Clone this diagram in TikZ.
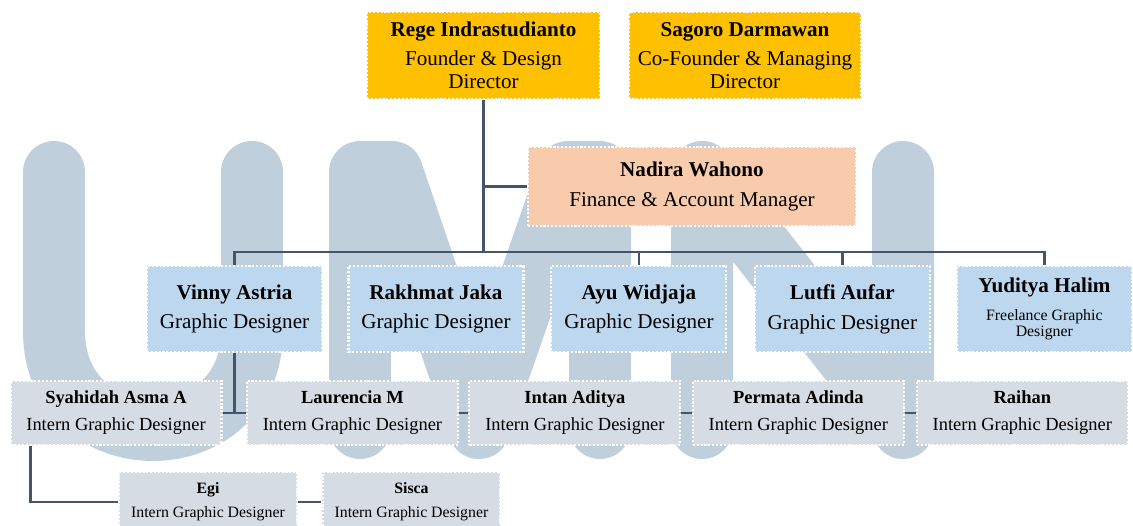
\documentclass[tikz,border=0pt]{standalone}
\usepackage{fontspec}
\setmainfont{Liberation Serif}
\usetikzlibrary{positioning}
\definecolor{gold}{HTML}{FFC000}
\definecolor{peach}{HTML}{F8CBAD}
\definecolor{paleblue}{HTML}{BDD7EE}
\definecolor{palegrey}{HTML}{D6DCE4}
\definecolor{slate}{HTML}{44546A}
\definecolor{umnblue}{RGB}{192,207,220}
\tikzset{
    member/.style={
           rectangle,
           draw=white, densely dotted, line width=1.2pt,
           inner sep=2pt,
           align=center,
           },
    founder/.style={member, fill=gold,
           minimum width=4.66cm, minimum height=1.74cm,
           font=\fontsize{12}{13}\selectfont},
    manager/.style={member, fill=peach,
           minimum width=6.56cm, minimum height=1.58cm,
           font=\fontsize{12}{13}\selectfont},
    designer/.style={member, fill=paleblue,
           minimum width=3.5cm, minimum height=1.72cm,
           font=\fontsize{12}{13}\selectfont},
    intern/.style={member, fill=palegrey,
           minimum width=4.22cm, minimum height=1.28cm,
           font=\fontsize{10.5}{12}\selectfont},
    junior/.style={member, fill=palegrey,
           minimum width=3.56cm, minimum height=1.2cm,
           font=\fontsize{9}{11}\selectfont},
    link/.style={draw=slate, line width=1.6pt},
    letter/.style={draw=umnblue, line width=1.24cm,
           line cap=round, line join=round},
}
\begin{document}
\begin{tikzpicture}[x=0.02cm, y=-0.02cm]

 \useasboundingbox (0,0) rectangle (1133,526);

 % watermark
 \draw[letter] (54,172) -- (54,331)
   .. controls (54,463) and (252,463) .. (252,331) -- (252,172);
 \draw[letter] (360,428) -- (360,172) -- (392,172) -- (479,428)
   -- (568,172) -- (600,172) -- (600,428);
 \draw[letter] (702,428) -- (702,172) -- (903,428) -- (903,172);

 \node[founder] (REGE) at (483.5,55.5)
 {%
  \textbf{Rege Indrastudianto}\\[3.4pt]
  Founder \& Design\\
  Director
 };

 \node[founder] (SAGORO) at (745,55.5)
 {%
  \textbf{Sagoro Darmawan}\\[3.4pt]
  Co-Founder \& Managing\\
  Director
 };

 \node[manager] (NADIRA) at (692,186.5)
 {%
  \textbf{Nadira Wahono}\\[4pt]
  Finance \& Account Manager
 };

 \node[designer] (VINNY) at (234.5,309)
 {%
  \textbf{Vinny Astria}\\[4pt]
  Graphic Designer
 };

 \node[designer,
  node distance=4.03cm,
  right of=VINNY] (RAKHMAT)
 {%
  \textbf{Rakhmat Jaka}\\[4pt]
  Graphic Designer
 };

 \node[designer,
  node distance=4.06cm,
  right of=RAKHMAT] (AYU)
 {%
  \textbf{Ayu Widjaja}\\[4pt]
  Graphic Designer
 };

 \node[designer,
  node distance=4.07cm,
  right of=AYU] (LUTFI)
 {%
  \textbf{Lutfi Aufar}\\[4pt]
  Graphic Designer
 };

 \node[designer,
  node distance=4.04cm,
  right of=LUTFI,
  font=\fontsize{9}{9.5}\selectfont] (YUDITYA)
 {%
  {\fontsize{12}{13}\selectfont\bfseries Yuditya Halim}\\[6.4pt]
  Freelance Graphic\\
  Designer
 };

 \node[intern] (SYAHIDAH) at (116,413)
 {%
  \textbf{Syahidah Asma A}\\[3.3pt]
  Intern Graphic Designer
 };

 \node[intern,
  node distance=4.73cm,
  right of=SYAHIDAH] (LAURENCIA)
 {%
  \textbf{Laurencia M}\\[3.3pt]
  Intern Graphic Designer
 };

 \node[intern,
  node distance=4.45cm,
  right of=LAURENCIA] (INTAN)
 {%
  \textbf{Intan Aditya}\\[3.3pt]
  Intern Graphic Designer
 };

 \node[intern,
  node distance=4.47cm,
  right of=INTAN] (PERMATA)
 {%
  \textbf{Permata Adinda}\\[3.3pt]
  Intern Graphic Designer
 };

 \node[intern,
  node distance=4.48cm,
  right of=PERMATA] (RAIHAN)
 {%
  \textbf{Raihan}\\[3.3pt]
  Intern Graphic Designer
 };

 \node[junior] (EGI) at (208,502)
 {%
  \textbf{Egi}\\[2.6pt]
  Intern Graphic Designer
 };

 \node[junior,
  node distance=4.07cm,
  right of=EGI] (SISCA)
 {%
  \textbf{Sisca}\\[2.6pt]
  Intern Graphic Designer
 };

 \coordinate (BUS) at (483.5,252);

 \draw[link] (REGE) -- (BUS);
 \draw[link] (NADIRA) -| (BUS);

 \draw[link] (BUS) -| (VINNY);
 \draw[link] (BUS) -| (AYU);
 \draw[link] (BUS) -| (LUTFI);
 \draw[link] (BUS) -| (YUDITYA);

 \draw[link] (VINNY) -- (VINNY |- SYAHIDAH);

 \path (SYAHIDAH) edge[link] (LAURENCIA);
 \path (LAURENCIA) edge[link] (INTAN);
 \path (INTAN) edge[link] (PERMATA);
 \path (PERMATA) edge[link] (RAIHAN);

 \draw[link] ([xshift=0.42cm]SYAHIDAH.south west) |- (EGI);
 \path (EGI) edge[link] (SISCA);

\end{tikzpicture}
\end{document}
